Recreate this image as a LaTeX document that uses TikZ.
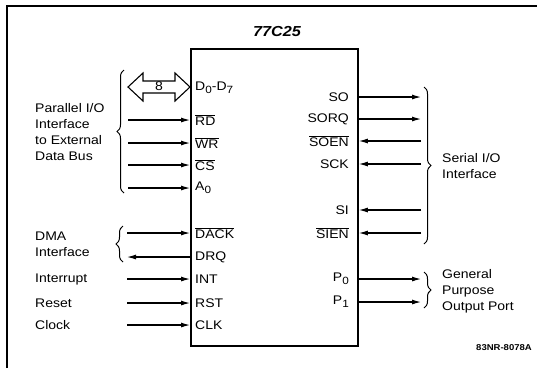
\documentclass[tikz,border=0pt]{standalone}
\usepackage{fontspec}
\setmainfont{Liberation Sans}[FakeStretch=1.12]
\usepackage{tikz}
\usetikzlibrary{arrows.meta}
\usetikzlibrary{decorations.pathreplacing}
\usetikzlibrary{positioning}
\newcommand{\notsig}[1]{$\overline{\mbox{#1}}$}
\newcommand{\lo}[1]{\raisebox{-0.45ex}{\fontsize{10.5}{11}\selectfont #1}}

\begin{document}
\begin{tikzpicture}[x=1pt,y=-1pt,
    sig/.style={-{Latex[length=9pt,width=5pt]}, line width=1.1pt},
    pin/.style={inner sep=0pt, font=\fontsize{12.5}{14}\selectfont},
    lbl/.style={anchor=west, align=left, inner sep=0pt, font=\fontsize{12.5}{16}\selectfont},
    grp/.style={decorate, decoration={brace, amplitude=7pt}, line width=1pt}]
    \useasboundingbox (0,0) rectangle (537,368);
    % frame (only top and left edge visible)
    \draw[line width=1.2pt] (7,368) -- (7,6) -- (537,6);
    \node[font=\fontsize{14.5}{16}\selectfont\bfseries\itshape] (title) at (277,32) {77C25};
    \node[draw, line width=1.8pt, anchor=north west, inner sep=0pt,
          minimum width=167pt, minimum height=297pt] (chip) at (190,48) {};

    % pins, left side
    \node[pin, anchor=west] (d)    at (195, 88) {D\lo{0}-D\lo{7}};
    \node[pin, anchor=west] (rd)   at (195,120) {\notsig{RD}};
    \node[pin, anchor=west] (wr)   at (195,143) {\notsig{WR}};
    \node[pin, anchor=west] (cs)   at (195,165) {\notsig{CS}};
    \node[pin, anchor=west] (a)    at (195,188) {A\lo{0}};
    \node[pin, anchor=west] (dack) at (195,233) {\notsig{DACK}};
    \node[pin, anchor=west] (drq)  at (195,257) {DRQ};
    \node[pin, anchor=west] (int)  at (195,279) {INT};
    \node[pin, anchor=west] (rst)  at (195,303) {RST};
    \node[pin, anchor=west] (clk)  at (195,325) {CLK};

    % pins, right side
    \node[pin, anchor=east] (so)   at (349, 97) {SO};
    \node[pin, anchor=east] (sorq) at (349,119) {SORQ};
    \node[pin, anchor=east] (soen) at (349,141) {\notsig{SOEN}};
    \node[pin, anchor=east] (sck)  at (349,164) {SCK};
    \node[pin, anchor=east] (si)   at (349,210) {SI};
    \node[pin, anchor=east] (sien) at (349,233) {\notsig{SIEN}};
    \node[pin, anchor=east] (p0)   at (349,279) {P\lo{0}};
    \node[pin, anchor=east] (p1)   at (349,302) {P\lo{1}};

    % data bus
    \draw[line width=1.1pt] (128,87) -- (143,73) -- (143,81) -- (175,81) -- (175,73) -- (190,87)
        -- (175,101) -- (175,93) -- (143,93) -- (143,101) -- cycle;
    \node[pin] (bus) at (159,86) {8};

    % free ends of the signal lines
    \coordinate (rdin)   at (128,120);
    \coordinate (wrin)   at (128,143);
    \coordinate (csin)   at (128,165);
    \coordinate (ain)    at (128,188);
    \coordinate (dackin) at (127,233);
    \coordinate (drqout) at (127,257);
    \coordinate (intin)  at (127,279);
    \coordinate (rstin)  at (127,303);
    \coordinate (clkin)  at (127,325);
    \coordinate (soout)   at (421, 97);
    \coordinate (sorqout) at (421,119);
    \coordinate (soenin)  at (421,141);
    \coordinate (sckin)   at (421,164);
    \coordinate (siin)    at (421,210);
    \coordinate (sienin)  at (421,233);
    \coordinate (p0out)   at (421,279);
    \coordinate (p1out)   at (421,302);

    \draw[sig] (rdin)   -- (rdin -| chip.west);
    \draw[sig] (wrin)   -- (wrin -| chip.west);
    \draw[sig] (csin)   -- (csin -| chip.west);
    \draw[sig] (ain)    -- (ain -| chip.west);
    \draw[sig] (dackin) -- (dackin -| chip.west);
    \draw[sig] (drqout -| chip.west) -- (drqout);
    \draw[sig] (intin)  -- (intin -| chip.west);
    \draw[sig] (rstin)  -- (rstin -| chip.west);
    \draw[sig] (clkin)  -- (clkin -| chip.west);
    \draw[sig] (soout -| chip.east)   -- (soout);
    \draw[sig] (sorqout -| chip.east) -- (sorqout);
    \draw[sig] (soenin) -- (soenin -| chip.east);
    \draw[sig] (sckin)  -- (sckin -| chip.east);
    \draw[sig] (siin)   -- (siin -| chip.east);
    \draw[sig] (sienin) -- (sienin -| chip.east);
    \draw[sig] (p0out -| chip.east) -- (p0out);
    \draw[sig] (p1out -| chip.east) -- (p1out);

    % groups
    \draw[grp] (124,193) -- (124,70);
    \draw[grp] (123,262) -- (123,226);
    \draw[grp] (424,87) -- (424,244);
    \draw[grp] (424,272) -- (424,308);
    \node[lbl] (par) at (35,132) {Parallel I/O\\Interface\\to External\\Data Bus};
    \node[lbl] (dma) at (35,244) {DMA\\Interface};
    \node[lbl] (intl) at (35,279) {Interrupt};
    \node[lbl] (rstl) at (35,303) {Reset};
    \node[lbl] (clkl) at (35,325) {Clock};
    \node[lbl] (ser) at (442,166) {Serial I/O\\Interface};
    \node[lbl] (gpo) at (442,291) {General\\Purpose\\Output Port};
    \node[anchor=east, inner sep=0pt, font=\fontsize{8.5}{9}\selectfont\bfseries] (fig) at (532,348) {83NR-8078A};
\end{tikzpicture}
\end{document}
